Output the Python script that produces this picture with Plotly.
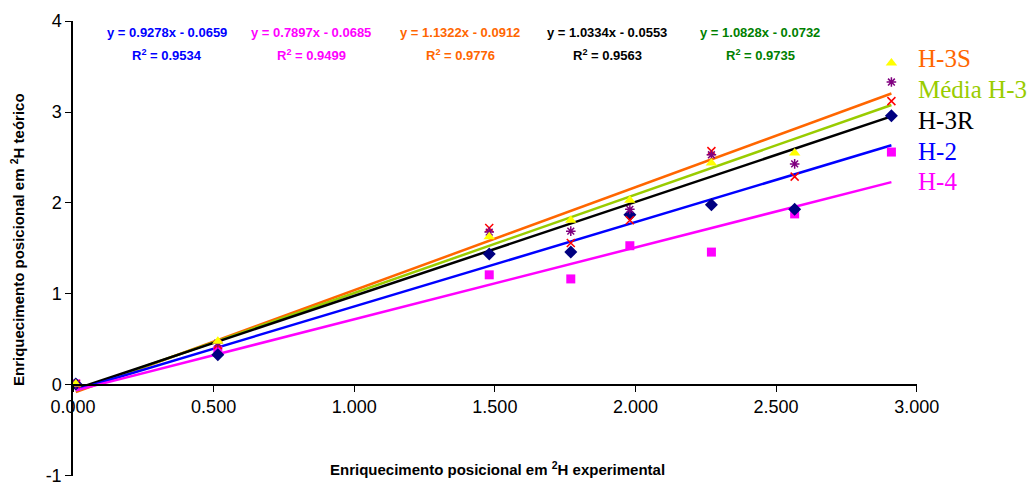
import plotly.graph_objects as go

# ---------------- data ----------------
x_vals = [0.01, 0.515, 1.48, 1.77, 1.98, 2.27, 2.566, 2.91]

series_names = ["H-3S", "Média H-3", "H-3R", "H-2", "H-4"]
y_h3s = [0.01, 0.48, 1.63, 1.81, 2.03, 2.44, 2.55, 3.54]
y_media = [0.01, 0.46, 1.68, 1.69, 1.93, 2.53, 2.43, 3.33]
y_h3r = [0.01, 0.44, 1.725, 1.56, 1.81, 2.57, 2.29, 3.12]
y_h2 = [0.01, 0.33, 1.44, 1.46, 1.87, 1.98, 1.93, 2.96]
y_h4 = [0.01, 0.38, 1.21, 1.165, 1.53, 1.46, 1.88, 2.56]

slopes = [1.1322, 1.0828, 1.0334, 0.9278, 0.7897]
intercepts = [-0.0912, -0.0732, -0.0553, -0.0659, -0.0685]
r2_vals = [0.9776, 0.9735, 0.9563, 0.9534, 0.9499]

x_ticks = [0, 0.5, 1.0, 1.5, 2.0, 2.5, 3.0]
y_ticks = [-1, 0, 1, 2, 3, 4]
y_tick_labels = ["-1", "0", "1", "2", "3", "4"]

# ---------------- styles ----------------
marker_styles = [
    dict(symbol="triangle-up", color="#FFFF00", size=10),
    dict(symbol="asterisk-open", color="#800080", size=8, line=dict(color="#800080", width=1.5)),
    dict(symbol="x-thin-open", color="#FF0000", size=8, line=dict(color="#FF0000", width=1.5)),
    dict(symbol="diamond", color="#000080", size=10),
    dict(symbol="square", color="#FF00FF", size=9),
]
line_colors = ["#FF6600", "#99CC00", "#000000", "#0000FF", "#FF00FF"]
eq_colors = ["#FF6600", "#008000", "#000000", "#0000FF", "#FF00FF"]
legend_colors = ["#FF6600", "#99CC00", "#000000", "#0000FF", "#FF00FF"]
# equation centre x (px) per series
eq_px = [460, 760, 607, 167, 311]

W, H = 1034, 484
L, R, T, B = 73, 117, 21, 8
pw, ph = W - L - R, H - T - B


def px_x(p):
    return (p - L) / pw


def px_y(p):
    return (H - B - p) / ph


all_y = [y_h3s, y_media, y_h3r, y_h2, y_h4]

fig = go.Figure()

xmin, xmax = min(x_vals), max(x_vals)
# trend lines
for i in range(5):
    fig.add_trace(go.Scatter(
        x=[xmin, xmax],
        y=[slopes[i] * xmin + intercepts[i], slopes[i] * xmax + intercepts[i]],
        mode="lines", line=dict(color=line_colors[i], width=2.5),
        showlegend=False, hoverinfo="skip"))

# markers (draw from bottom series to top)
for i in [4, 3, 2, 1, 0]:
    fig.add_trace(go.Scatter(
        x=x_vals, y=all_y[i], mode="markers", name=series_names[i],
        marker=marker_styles[i], showlegend=False))

annotations = []
for i in range(5):
    sign = "-" if intercepts[i] < 0 else "+"
    annotations.append(dict(
        xref="paper", yref="paper", x=px_x(eq_px[i]), y=px_y(32),
        text=f"<b>y = {slopes[i]:.4f}x {sign} {abs(intercepts[i]):.4f}</b>",
        showarrow=False, xanchor="center", yanchor="middle",
        font=dict(family="Arial, Liberation Sans", size=13, color=eq_colors[i])))
    annotations.append(dict(
        xref="paper", yref="paper", x=px_x(eq_px[i]), y=px_y(55),
        text=f"<b>R<sup>2</sup> = {r2_vals[i]:.4f}</b>",
        showarrow=False, xanchor="center", yanchor="middle",
        font=dict(family="Arial, Liberation Sans", size=13, color=eq_colors[i])))

# text legend
leg_y = [58, 89, 120, 151, 182]
for i in range(5):
    annotations.append(dict(
        xref="paper", yref="paper", x=px_x(916), y=px_y(leg_y[i]),
        text=series_names[i], showarrow=False, xanchor="left", yanchor="middle",
        font=dict(family="Liberation Serif, Times New Roman", size=25,
                  color=legend_colors[i])))

# axis titles
annotations.append(dict(
    xref="paper", yref="paper", x=px_x(497), y=px_y(468),
    text="<b>Enriquecimento posicional em <sup>2</sup>H experimental</b>",
    showarrow=False, xanchor="center", yanchor="middle",
    font=dict(family="Arial, Liberation Sans", size=15, color="black")))
annotations.append(dict(
    xref="paper", yref="paper", x=px_x(18), y=px_y(240),
    text="<b>Enriquecimento posicional em <sup>2</sup>H teórico</b>",
    showarrow=False, xanchor="center", yanchor="middle", textangle=-90,
    font=dict(family="Arial, Liberation Sans", size=15, color="black")))

fig.update_layout(
    width=W, height=H,
    margin=dict(l=L, r=R, t=T, b=B, pad=0, autoexpand=False),
    paper_bgcolor="white", plot_bgcolor="white",
    annotations=annotations,
    showlegend=False,
    xaxis=dict(range=[0, 3.001], tickvals=x_ticks, tickformat=".3f",
               showgrid=False, zeroline=False, showline=True,
               linecolor="black", linewidth=1.5, ticks="outside",
               ticklen=6, tickcolor="black", automargin=False,
               anchor="free", position=0.2,
               tickfont=dict(family="Arial, Liberation Sans", size=18, color="black")),
    yaxis=dict(range=[-1.002, 4.001], tickvals=y_ticks, ticktext=y_tick_labels,
               showgrid=False,
               zeroline=False, showline=True, linecolor="black",
               linewidth=1.5, ticks="outside", ticklen=6, tickcolor="black",
               ticklabeloverflow="allow", automargin=False,
               tickfont=dict(family="Arial, Liberation Sans", size=18, color="black")),
)

fig.write_html("out.html", config={"displayModeBar": False},
               post_script="document.body.style.margin='0';document.body.style.overflow='hidden';")
